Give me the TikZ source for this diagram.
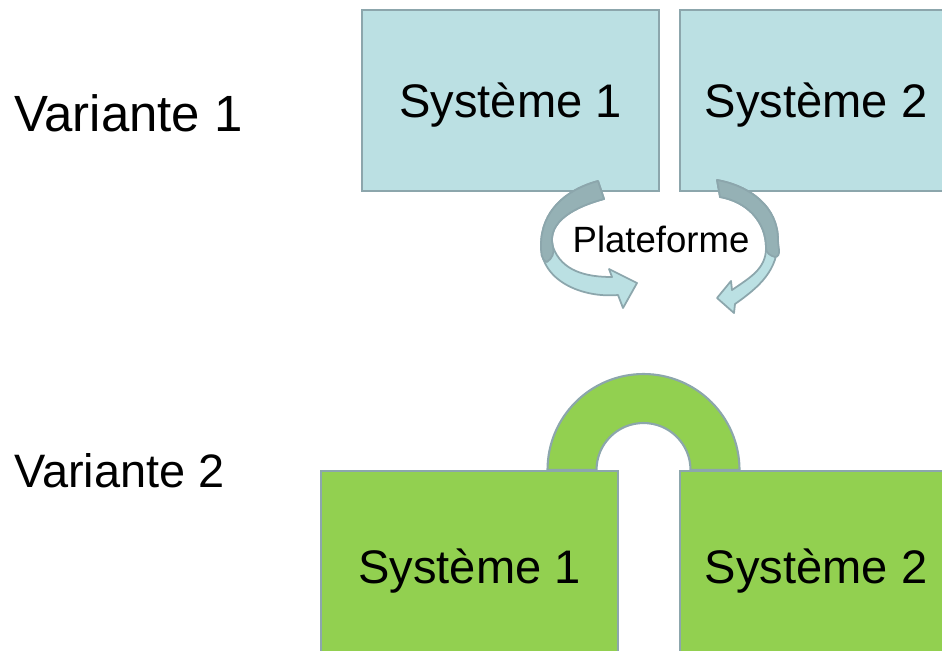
\documentclass[tikz,border=0pt]{standalone}
\usepackage{fontspec}
\setmainfont{Liberation Sans}

\definecolor{paleblue}{RGB}{187,224,227}
\definecolor{shadeblue}{RGB}{149,177,181}
\definecolor{edgegray}{RGB}{140,166,172}
\definecolor{leafgreen}{RGB}{146,208,80}

\begin{document}
\begin{tikzpicture}[x=0.02cm,y=0.02cm,
    sysbox/.style={draw=edgegray,line width=1.2pt,inner sep=0pt,text depth=0pt,
      anchor=north west,font=\fontsize{26.8}{30}\selectfont},
    varlabel/.style={anchor=west,inner sep=0pt,text depth=0pt},
    band/.style={draw=edgegray,line width=1pt,line join=round}]
  \useasboundingbox (0,0) rectangle (942,-650);
  \clip (0,0) rectangle (942,-650);

  % variante 1 : plateforme entre les deux systemes
  \node[varlabel,font=\fontsize{29}{34}\selectfont] (var1) at (14,-113) {Variante 1};
  \node[sysbox,fill=paleblue,minimum width=5.94cm,minimum height=3.62cm] (sysA1) at (361,-9) {Système 1};
  \node[sysbox,fill=paleblue,minimum width=5.44cm,minimum height=3.62cm] (sysA2) at (679,-9) {Système 2};

  \filldraw[band,fill=paleblue] (598,-181) to[out=195,in=90] (541,-245)
    to[out=-90,in=185] (618,-295) -- (623,-308) -- (637,-283) -- (609,-269) -- (612,-277)
    to[out=180,in=-70] (553,-247) to[out=105,in=195] (604,-199) -- cycle;
  \filldraw[band,fill=shadeblue] (598,-181) to[out=195,in=90] (541,-245)
    to[out=-88,in=160] (547,-262) to[out=35,in=-75] (553,-247)
    to[out=105,in=195] (604,-199) -- cycle;

  \filldraw[band,fill=paleblue] (717,-180) to[out=-10,in=90] (778,-240)
    to[out=-90,in=35] (735,-304) -- (734,-313) -- (717,-298) -- (731,-281) -- (732,-290)
    to[out=35,in=-90] (766,-248) to[out=90,in=-10] (720,-197) -- cycle;
  \filldraw[band,fill=shadeblue] (717,-180) to[out=-10,in=90] (778,-240)
    to[out=-90,in=5] (775,-257) to[out=165,in=-90] (766,-248)
    to[out=90,in=-10] (720,-197) -- cycle;

  \node[inner sep=0pt,text depth=0pt,font=\fontsize{20.8}{24}\selectfont] (plat) at (661,-239) {Plateforme};

  % variante 2 : pont entre les deux systemes
  \node[varlabel,font=\fontsize{26.7}{30}\selectfont] (var2) at (14,-470) {Variante 2};
  \filldraw[band,fill=leafgreen,line width=1.2pt] (547.5,-470) arc[start angle=180,end angle=0,radius=96]
    -- (690.5,-470) arc[start angle=0,end angle=180,radius=47] -- cycle;
  \node[sysbox,fill=leafgreen,minimum width=5.94cm,minimum height=3.8cm] (sysB1) at (320,-470) {Système 1};
  \node[sysbox,fill=leafgreen,minimum width=5.44cm,minimum height=3.8cm] (sysB2) at (679,-470) {Système 2};
\end{tikzpicture}
\end{document}
